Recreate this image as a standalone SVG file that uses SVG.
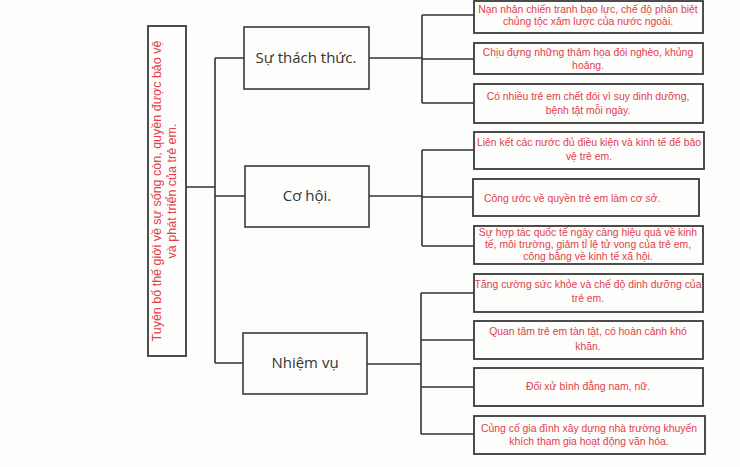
<svg xmlns="http://www.w3.org/2000/svg" width="740" height="467" viewBox="0 0 740 467">
<style>
.bg{fill:#fdfdfb}
.box{fill:#fdfdfb;stroke:#3a3a3a;stroke-width:1.8}
.mid{fill:#fdfdfb;stroke:#3a3a3a;stroke-width:1.6}
.ln{fill:none;stroke:#333;stroke-width:1.6}
.red{font-family:"Liberation Sans","Open Sans",sans-serif;font-size:10.4px;fill:#e2404c;text-anchor:middle}
.red2{font-family:"Liberation Sans","Open Sans",sans-serif;font-size:12.5px;fill:#e2404c;text-anchor:middle}
.head{font-family:"Open Sans","Liberation Sans",sans-serif;font-size:15px;fill:#333;text-anchor:middle}
</style>
<rect class="bg" x="0" y="0" width="740" height="467"/>
<g id="connectors">
<path class="ln" d="M186 187H215M215 58V363M215 58H244M215 196H245M215 363H243"/>
<path class="ln" d="M369 58H422M422 15V103M422 15H474M422 59H474M422 103H474"/>
<path class="ln" d="M369 196H422M422 150V246M422 150H474M422 197H473M422 246H474"/>
<path class="ln" d="M367 364H421M421 293V434M421 293H474M421 340H474M421 387H474M421 434H474"/>
</g>
<g id="root">
<rect class="box" x="148" y="26" width="38" height="330"/>
<text class="red2" transform="translate(161 191) rotate(-90)">Tuyên bố thế giới về sự sống còn, quyền được bảo vệ</text>
<text class="red2" transform="translate(176 191) rotate(-90)">và phát triển của trẻ em.</text>
</g>
<g id="thachthuc">
<rect class="mid" x="244" y="27" width="125" height="62"/>
<text class="head" x="306" y="63">Sự thách thức.</text>
</g>
<g id="cohoi">
<rect class="mid" x="245" y="166" width="124" height="61"/>
<text class="head" x="307" y="201">Cơ hội.</text>
</g>
<g id="nhiemvu">
<rect class="mid" x="243" y="333" width="124" height="61"/>
<text class="head" x="305" y="368">Nhiệm vụ</text>
</g>
<g id="b1">
<rect class="box" x="474" y="1" width="229" height="32"/>
<text class="red" x="588" y="13">Nạn nhân chiến tranh bạo lực, chế độ phân biệt</text>
<text class="red" x="588" y="25">chủng tộc xâm lược của nước ngoài.</text>
</g>
<g id="b2">
<rect class="box" x="474" y="43" width="229" height="31"/>
<text class="red" x="588" y="56">Chịu đựng những thảm họa đói nghèo, khủng</text>
<text class="red" x="588" y="69">hoảng.</text>
</g>
<g id="b3">
<rect class="box" x="474" y="84" width="229" height="39"/>
<text class="red" x="588" y="100">Có nhiều trẻ em chết đói vì suy dinh dưỡng,</text>
<text class="red" x="588" y="114">bệnh tật mỗi ngày.</text>
</g>
<g id="b4">
<rect class="box" x="474" y="132" width="230" height="37"/>
<text class="red" x="589" y="146">Liên kết các nước đủ điều kiện và kinh tế để bảo</text>
<text class="red" x="589" y="160">vệ trẻ em.</text>
</g>
<g id="b5">
<rect class="box" x="473" y="179" width="226" height="37"/>
<text class="red" x="484" y="202" style="text-anchor:start">Công ước về quyền trẻ em làm cơ sở.</text>
</g>
<g id="b6">
<rect class="box" x="474" y="226" width="229" height="38"/>
<text class="red" x="588" y="236">Sự hợp tác quốc tế ngày càng hiệu quả về kinh</text>
<text class="red" x="588" y="248">tế, môi trường, giảm tỉ lệ tử vong của trẻ em,</text>
<text class="red" x="588" y="260">công bằng về kinh tế xã hội.</text>
</g>
<g id="b7">
<rect class="box" x="474" y="274" width="229" height="38"/>
<text class="red" x="588" y="288">Tăng cường sức khỏe và chế độ dinh dưỡng của</text>
<text class="red" x="588" y="302">trẻ em.</text>
</g>
<g id="b8">
<rect class="box" x="474" y="321" width="229" height="38"/>
<text class="red" x="588" y="335">Quan tâm trẻ em tàn tật, có hoàn cảnh khó</text>
<text class="red" x="588" y="350">khăn.</text>
</g>
<g id="b9">
<rect class="box" x="474" y="368" width="229" height="38"/>
<text class="red" x="588" y="390">Đối xử bình đẳng nam, nữ.</text>
</g>
<g id="b10">
<rect class="box" x="474" y="416" width="231" height="38"/>
<text class="red" x="589" y="432">Củng cố gia đình xây dựng nhà trường khuyến</text>
<text class="red" x="589" y="445">khích tham gia hoạt động văn hóa.</text>
</g>
</svg>
